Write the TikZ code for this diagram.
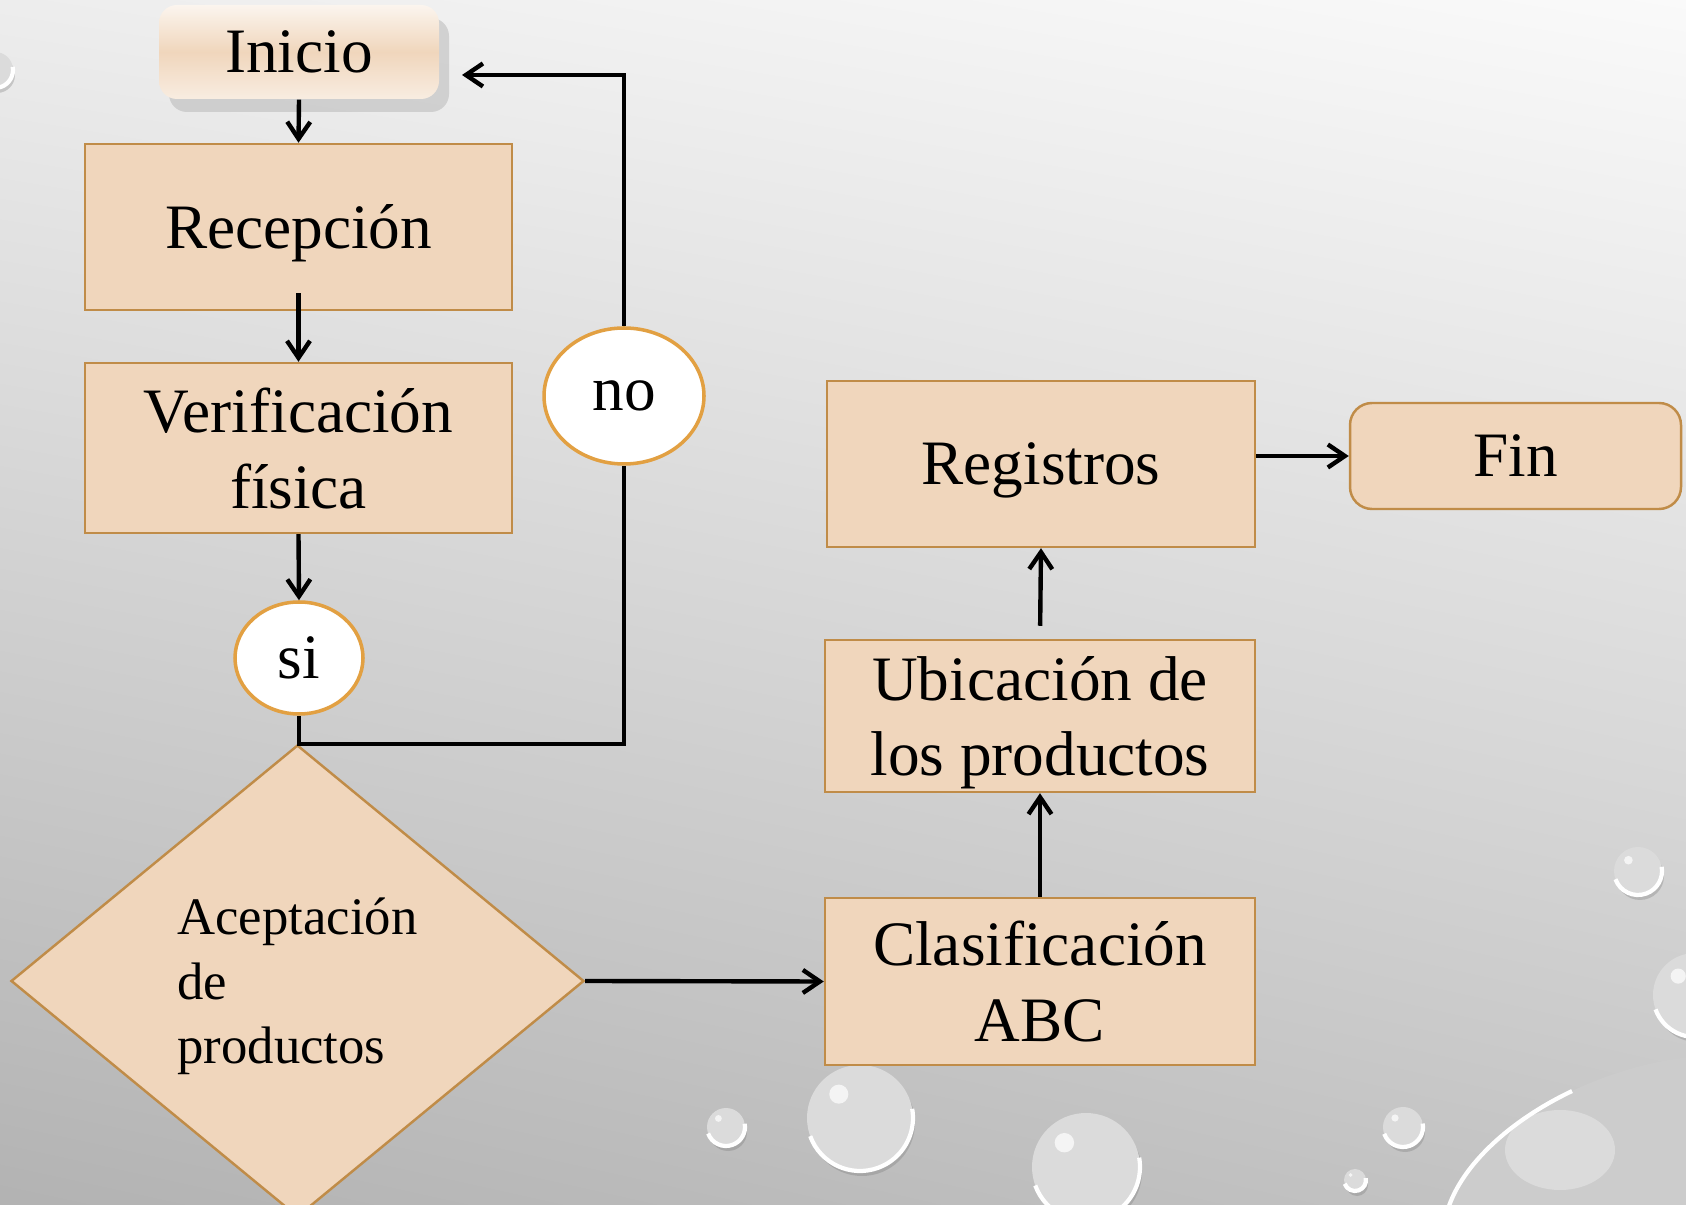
\documentclass[tikz,border=0pt]{standalone}
\usepackage{fontspec}
\setmainfont{Liberation Serif}
\usetikzlibrary{shapes.geometric,shadows,shadings,arrows.meta}

\definecolor{caja}{RGB}{240,214,188}
\definecolor{borde}{RGB}{192,140,72}
\definecolor{bordeov}{RGB}{226,160,66}

\begin{document}
\begin{tikzpicture}[
    >={Straight Barb[length=1.7mm,width=2.3mm]},
    flecha/.style={->, line width=1.25pt},
    proceso/.style={draw=borde, fill=caja, line width=0.7pt, inner sep=0pt, text depth=0pt,
        align=center, font=\fontsize{18}{21.5}\selectfont},
    salida/.style={ellipse, draw=bordeov, fill=white, line width=1pt,
        inner sep=0pt, font=\fontsize{18}{21.5}\selectfont}
  ]
    % fondo
    \shade[upper left=black!7, upper right=black!2, lower left=black!30, lower right=black!23]
        (0,0) rectangle (16.86,-12.05);
    \useasboundingbox (0,0) rectangle (16.86,-12.05);

    % gotas
    \foreach \x/\y/\rad in {7.26/-11.27/0.19, 8.60/-11.18/0.53, 10.86/-11.67/0.54,
            16.38/-8.71/0.24, 14.03/-11.27/0.20, 13.55/-11.80/0.11,
            16.95/-9.95/0.42, -0.05/-0.70/0.18} {
        \fill[black!55, opacity=.3] (\x+.02,\y-.05) circle (\rad);
        \fill[black!14] (\x,\y) circle (\rad);
        \draw[white, line width=1.2pt] (\x,\y) ++(-160:\rad) arc (-160:10:\rad);
        \fill[white, opacity=.7] (\x-.4*\rad,\y+.45*\rad) circle (.18*\rad);
    }
    \fill[black!55, opacity=.3, rotate around={20:(16.45,-11.85)}] (16.47,-11.92) ellipse (2.1 and 1.15);
    \fill[black!20, rotate around={20:(16.45,-11.85)}] (16.45,-11.85) ellipse (2.1 and 1.15);
    \draw[white, line width=1.2pt, rotate around={20:(16.45,-11.85)}] (16.45,-11.85) ++(170:2.1 and 1.15) arc (170:100:2.1 and 1.15);
    \fill[white, opacity=.3] (15.6,-11.5) ellipse (0.55 and 0.4);

    % nodos
    \node[top color=white!75!caja, bottom color=white!55!caja, middle color=caja,
        rounded corners=0.18cm, minimum width=2.8cm, minimum height=0.94cm,
        drop shadow={shadow xshift=0.1cm, shadow yshift=-0.13cm, fill=black!35, opacity=.4},
        font=\fontsize{18}{21.5}\selectfont] (inicio) at (2.99,-0.52) {Inicio};
    \node[proceso, minimum width=4.27cm, minimum height=1.66cm] (recep) at (2.985,-2.27) {Recepción};
    \node[proceso, minimum width=4.27cm, minimum height=1.70cm] (verif) at (2.985,-4.48) {Verificación\\física};
    \node[salida, minimum width=1.28cm, minimum height=1.12cm] (si) at (2.99,-6.58) {si};
    \node[salida, minimum width=1.60cm, minimum height=1.36cm] (no) at (6.24,-3.96) {no};
    \node[diamond, draw=borde, fill=caja, line width=0.7pt, inner sep=0pt, text depth=0pt,
        minimum width=5.73cm, minimum height=4.72cm, align=left,
        font=\fontsize{15}{18.4}\selectfont] (acept) at (2.975,-9.81) {Aceptación\\de\\productos};
    \node[proceso, minimum width=4.30cm, minimum height=1.67cm] (clasif) at (10.40,-9.815) {Clasificación\\ABC};
    \node[proceso, minimum width=4.30cm, minimum height=1.52cm] (ubic) at (10.40,-7.16) {Ubicación de\\los productos};
    \node[proceso, minimum width=4.28cm, minimum height=1.66cm] (regis) at (10.41,-4.64) {Registros};
    \node[proceso, rounded corners=0.22cm, minimum width=3.31cm, minimum height=1.06cm] (fin) at (15.155,-4.56) {Fin};

    % conectores
    \draw[flecha] (inicio.south) -- (recep.north);
    \draw[flecha, shorten <=-0.18cm] (recep.south) -- (verif.north);
    \draw[flecha] (verif.south) -- (si.north);
    \draw[line width=1.25pt] (si.south) -- (si.south |- acept.north) -| (no.south);
    \coordinate (vuelta) at (4.62,-0.75);
    \draw[flecha] (no.north) |- (vuelta);
    \draw[flecha] (acept.east) -- (clasif.west);
    \draw[flecha] (clasif.north) -- (ubic.south);
    \draw[flecha, shorten <=0.13cm] (ubic.north) -- (regis.south);
    \draw[flecha] (regis.east |- fin.west) -- (fin.west);
\end{tikzpicture}
\end{document}
